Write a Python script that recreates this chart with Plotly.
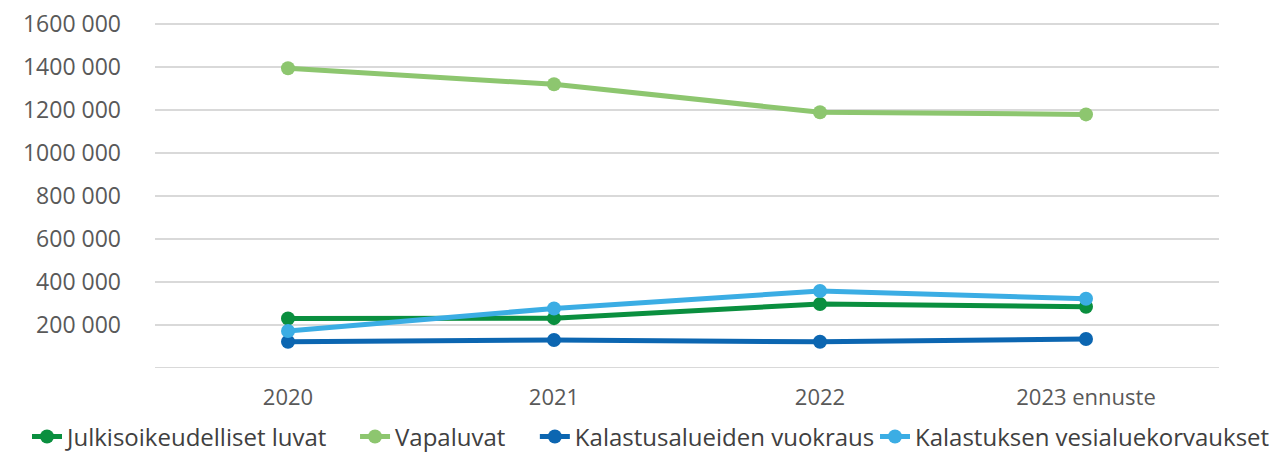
import plotly.graph_objects as go

categories = ["2020", "2021", "2022", "2023 ennuste"]
julkis = [230000, 232000, 298000, 285000]
vapa = [1395000, 1320000, 1190000, 1180000]
kalastusalue = [122000, 130000, 122000, 135000]
vesialue = [172000, 277000, 358000, 322000]

tick_vals = [200000, 400000, 600000, 800000, 1000000, 1200000, 1400000, 1600000]
tick_text = ["200 000", "400 000", "600 000", "800 000", "1000 000", "1200 000", "1400 000", "1600 000"]

series = [
    ("Julkisoikeudelliset luvat", julkis, "#0a8f3f", "legend", -0.1203),
    ("Vapaluvat", vapa, "#8dc66f", "legend2", 0.188),
    ("Kalastusalueiden vuokraus", kalastusalue, "#0c66b1", "legend3", 0.357),
    ("Kalastuksen vesialuekorvaukset", vesialue, "#3badE4", "legend4", 0.6767),
]

fig = go.Figure()
legends = {}
for name, vals, col, leg, lx in series:
    fig.add_trace(go.Scatter(
        x=categories, y=vals, name=name, mode="lines+markers",
        line=dict(color=col, width=5), marker=dict(color=col, size=14),
        legend=leg,
    ))
    legends[leg] = dict(orientation="h", x=lx, xanchor="left",
                        y=-0.199, yanchor="middle",
                        font=dict(size=24, color="#404040", family="Open Sans"),
                        bgcolor="rgba(0,0,0,0)")

fig.update_layout(
    width=1274, height=444,
    margin=dict(l=147, r=63, t=14, b=84, autoexpand=False),
    plot_bgcolor="white", paper_bgcolor="white",
    font=dict(family="Open Sans", size=22, color="#595959"),
    xaxis=dict(type="category", range=[-0.5, 3.5], showgrid=False, showline=False,
               ticks="", tickfont=dict(size=22, color="#595959"), automargin=False,
               ticklabelstandoff=14),
    yaxis=dict(range=[0, 1610000], tickvals=[0] + tick_vals, ticktext=[""] + tick_text,
               showgrid=True, gridcolor="#d9d9d9", gridwidth=2, zeroline=False,
               ticks="", tickfont=dict(size=23, color="#595959"), ticklabelstandoff=33,
               automargin=False, ticklabeloverflow="allow"),
    showlegend=True,
    **legends,
)
fig.add_shape(type="line", xref="paper", yref="y", x0=0, x1=1, y0=0, y1=0,
              line=dict(color="#d9d9d9", width=2), layer="below")

fig.write_html("out.html")
